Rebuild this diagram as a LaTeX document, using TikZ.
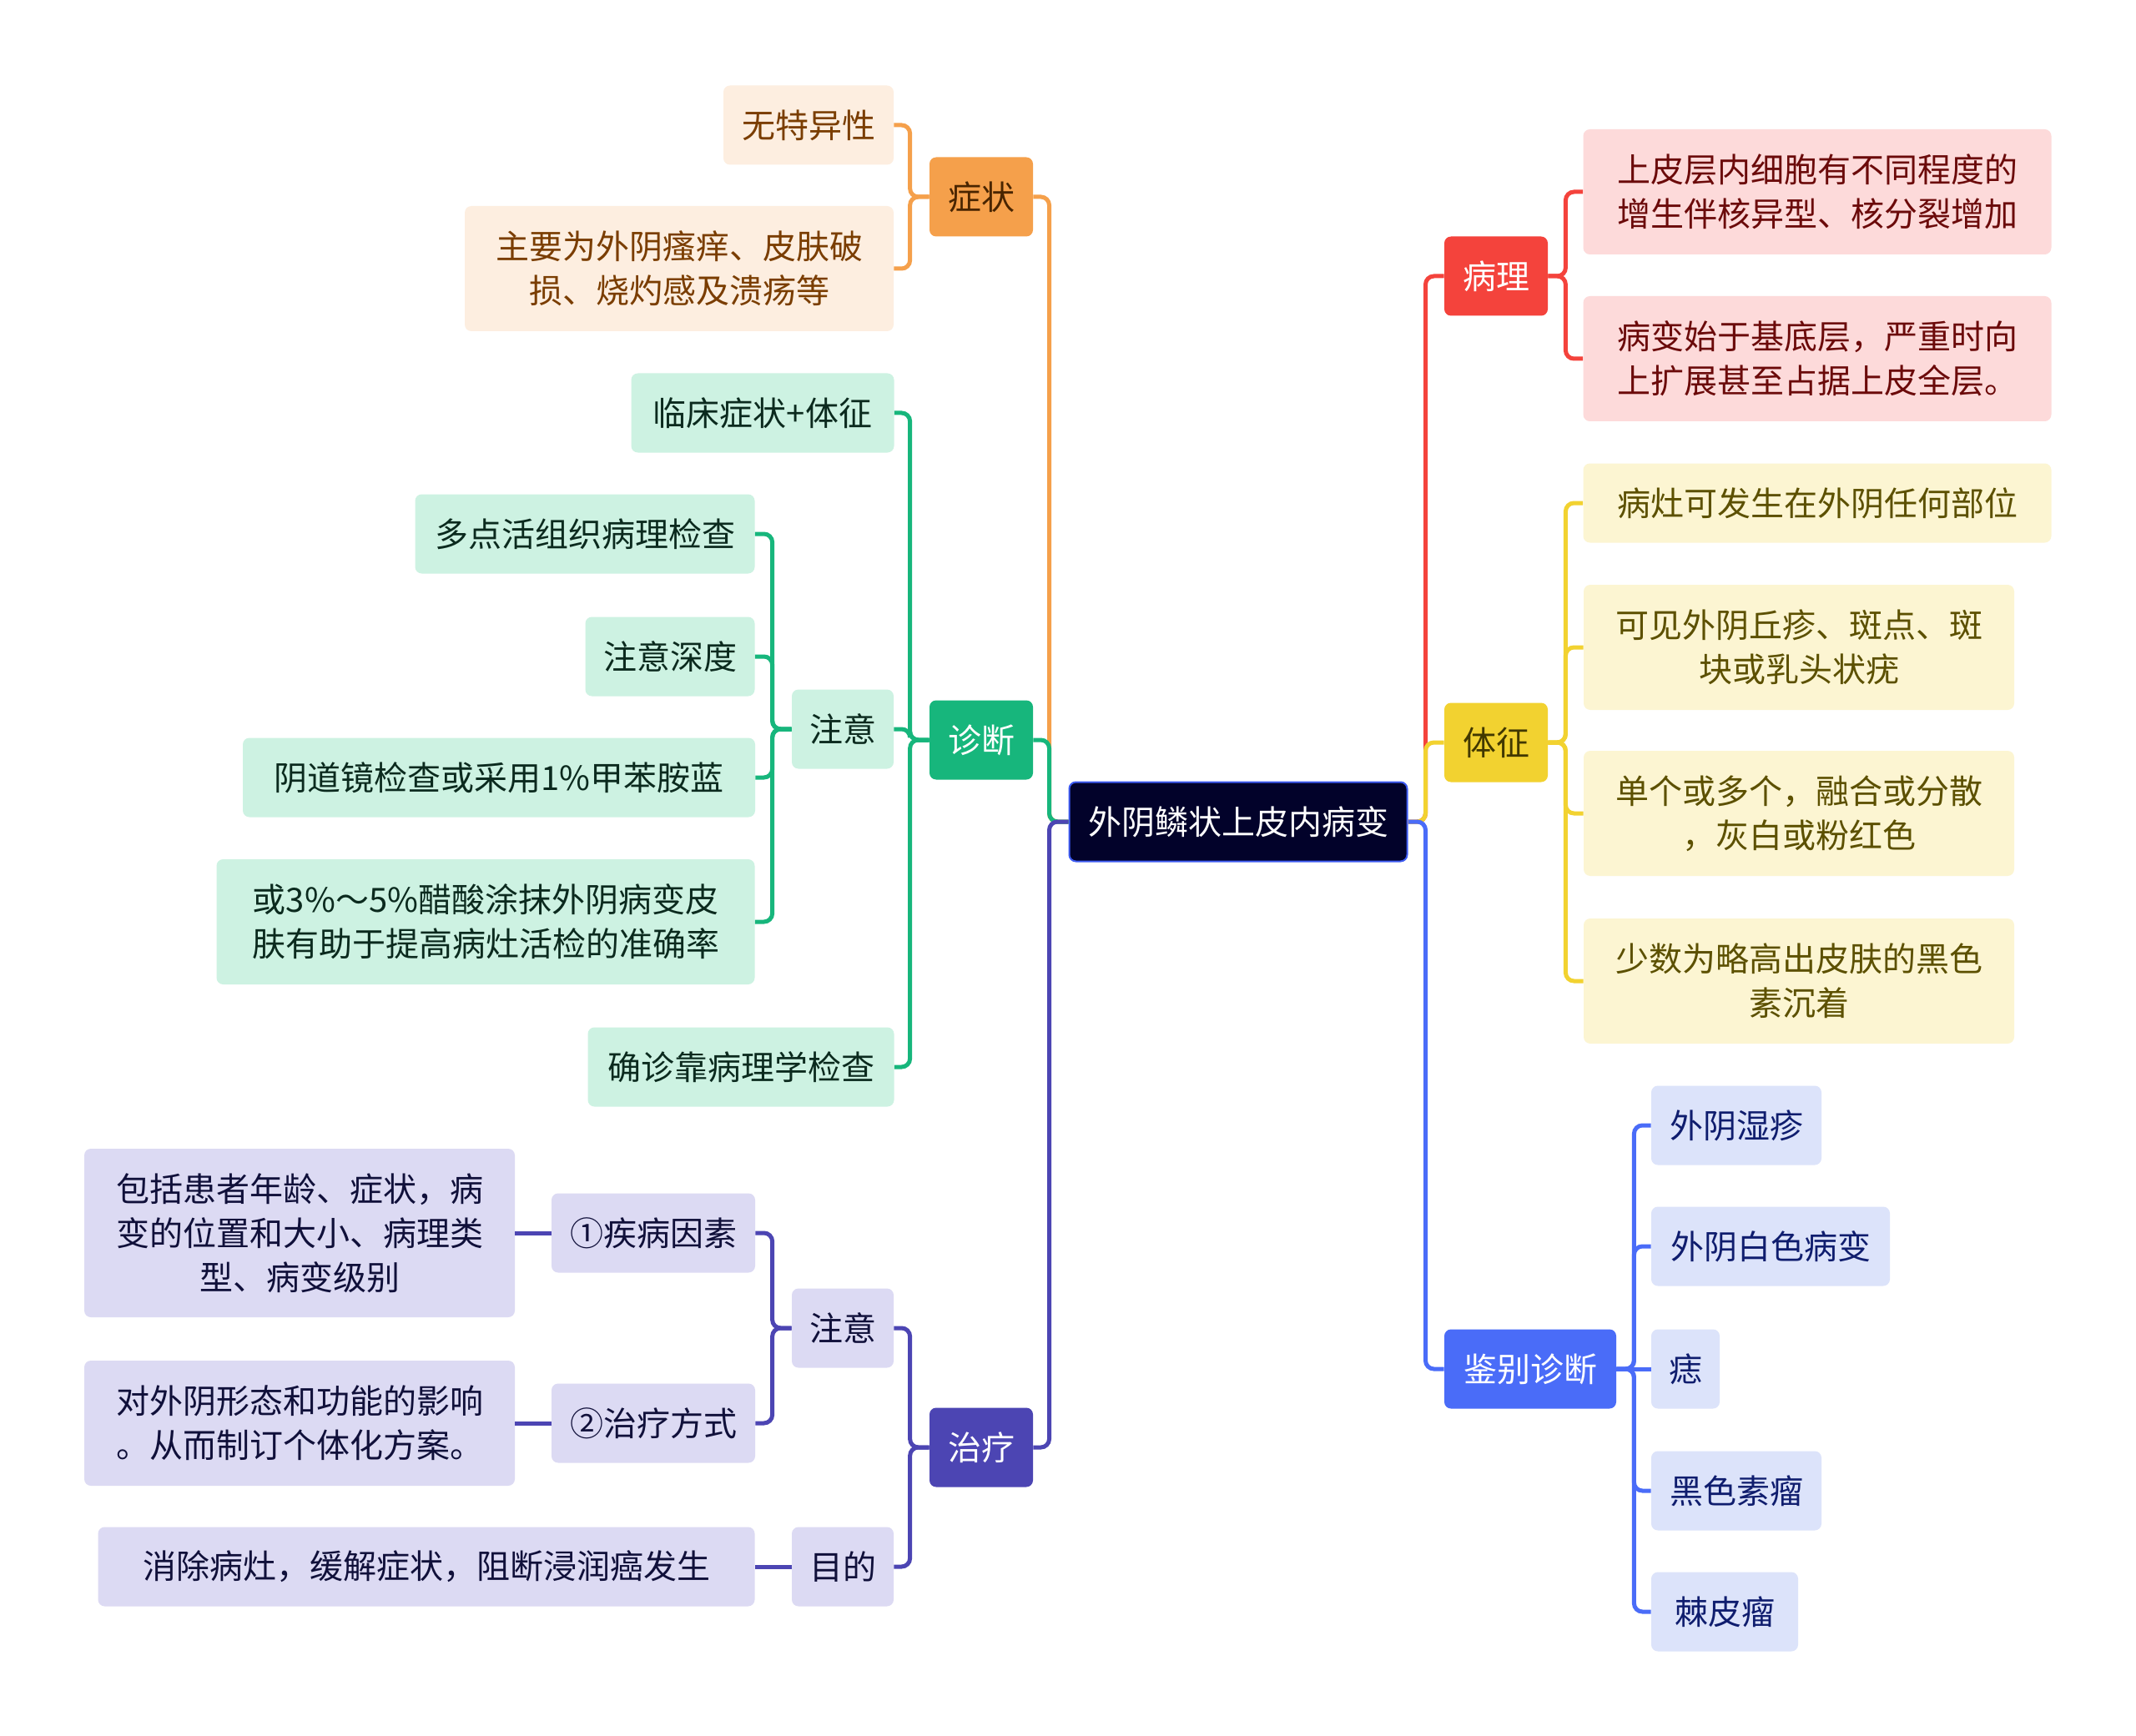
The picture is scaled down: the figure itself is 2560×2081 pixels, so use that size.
\documentclass[tikz,border=0pt]{standalone}
\usepackage{fontspec}
\setmainfont{Noto Sans CJK SC}
\usepackage{xcolor}
\usetikzlibrary{calc}
\definecolor{rootbg}{HTML}{02022A}
\definecolor{rootln}{HTML}{3D5AF1}
\definecolor{zzc}{HTML}{F5A04B}
\definecolor{zdc}{HTML}{17B67C}
\definecolor{zlc}{HTML}{4C45B3}
\definecolor{blc}{HTML}{F4433C}
\definecolor{tzc}{HTML}{F2D230}
\definecolor{jbc}{HTML}{4A6CF8}
\definecolor{zzf}{HTML}{FDEEE0}
\definecolor{zdf}{HTML}{CDF2E2}
\definecolor{zlf}{HTML}{DCDAF3}
\definecolor{blf}{HTML}{FDDADA}
\definecolor{tzf}{HTML}{FCF5D2}
\definecolor{jbf}{HTML}{DCE3FA}
\definecolor{zzt}{HTML}{7A3D00}
\definecolor{zdt}{HTML}{0B2A1E}
\definecolor{zlt}{HTML}{10103A}
\definecolor{blt}{HTML}{6B0A0A}
\definecolor{tzt}{HTML}{5C5000}
\definecolor{jbt}{HTML}{0F1D6E}
\tikzset{
  box/.style={rounded corners=4pt, inner sep=0pt, align=center, minimum height=47.5pt,
    font=\fontsize{20pt}{26.5pt}\selectfont},
  root/.style={box, fill=rootbg, draw=rootln, line width=1pt, text=white, minimum width=202.5pt},
  topic/.style={box, fill=#1, minimum width=62pt},
  leaf/.style={box, fill=#1f, text=#1t},
  two/.style={minimum height=75pt},
  three/.style={minimum height=101pt},
  link/.style={draw=#1, line width=2.5pt, rounded corners=5pt},
}
\newcommand{\lbranch}[3]{%
  \foreach \k in {#3} {\draw[link=#1] (#2.west) -- ++(-23,0) |- (\k.east);}}
\newcommand{\rbranch}[3]{%
  \foreach \k in {#3} {\draw[link=#1] (#2.east) -- ++(21,0) |- (\k.west);}}

\begin{document}
\begin{tikzpicture}[x=0.5pt,y=-0.5pt]
  \fill[white] (0,0) rectangle (2560,2081);
  \useasboundingbox (0,0) rectangle (2560,2081);

  \node[root] (root) at (1484,985) {外阴鳞状上皮内病变};

  % main topics
  \node[topic=zzc, text=zzt!60!black] (zz) at (1176,236) {症状};
  \node[topic=zdc, text=white] (zd) at (1176,887) {诊断};
  \node[topic=zlc, text=white] (zl) at (1176,1735) {治疗};
  \node[topic=blc, text=white] (bl) at (1793,331) {病理};
  \node[topic=tzc, text=tzt!70!black] (tz) at (1793,890) {体征};
  \node[topic=jbc, text=white, minimum width=103pt] (jb) at (1834,1641) {鉴别诊断};

  % symptoms
  \node[leaf=zz, minimum width=102pt] (zz1) at (969,150) {无特异性};
  \node[leaf=zz, two, minimum width=257pt] (zz2) at (814,322) {主要为外阴瘙痒、皮肤破\\损、烧灼感及溃疡等};

  % diagnosis
  \node[leaf=zd, minimum width=157.5pt] (zd1) at (914,495) {临床症状+体征};
  \node[leaf=zd, minimum width=61pt] (zd2) at (1010,874) {注意};
  \node[leaf=zd, minimum width=183.5pt] (zd3) at (888,1279) {确诊靠病理学检查};
  \node[leaf=zd, minimum width=203.5pt] (zd21) at (701,640) {多点活组织病理检查};
  \node[leaf=zd, minimum width=101.5pt] (zd22) at (803,787) {注意深度};
  \node[leaf=zd, minimum width=307pt] (zd23) at (598,932) {阴道镜检查或采用1\%甲苯胺蓝};
  \node[leaf=zd, two, minimum width=322.5pt] (zd24) at (582,1105) {或3\%～5\%醋酸涂抹外阴病变皮\\肤有助于提高病灶活检的准确率};

  % treatment
  \node[leaf=zl, minimum width=61pt] (zl1) at (1010,1592) {注意};
  \node[leaf=zl, minimum width=61pt] (zl2) at (1010,1878) {目的};
  \node[leaf=zl, minimum width=122pt] (zl11) at (783,1478) {①疾病因素};
  \node[leaf=zl, minimum width=122pt] (zl12) at (783,1706) {②治疗方式};
  \node[leaf=zl, three, minimum width=258pt] (zl111) at (359,1478) {包括患者年龄、症状，病\\变的位置和大小、病理类\\型、病变级别};
  \node[leaf=zl, two, minimum width=258pt] (zl121) at (359,1706) {对外阴形态和功能的影响\\。从而制订个体化方案。};
  \node[leaf=zl, minimum width=393.5pt] (zl21) at (511,1878) {消除病灶，缓解症状，阻断浸润癌发生};

  % pathology
  \node[leaf=bl, two, minimum width=280.5pt] (bl1) at (2178,230) {上皮层内细胞有不同程度的\\增生伴核异型、核分裂增加};
  \node[leaf=bl, two, minimum width=280.5pt] (bl2) at (2178,430) {病变始于基底层，严重时向\\上扩展甚至占据上皮全层。};

  % signs
  \node[leaf=tz, minimum width=280.5pt] (tz1) at (2178,603) {病灶可发生在外阴任何部位};
  \node[leaf=tz, two, minimum width=258pt] (tz2) at (2156,776) {可见外阴丘疹、斑点、斑\\块或乳头状疣};
  \node[leaf=tz, two, minimum width=258pt] (tz3) at (2156,975) {单个或多个，融合或分散\\，灰白或粉红色};
  \node[leaf=tz, two, minimum width=258pt] (tz4) at (2156,1176) {少数为略高出皮肤的黑色\\素沉着};

  % differential diagnosis
  \node[leaf=jb, minimum width=102pt] (jb1) at (2081,1349) {外阴湿疹};
  \node[leaf=jb, minimum width=143pt] (jb2) at (2122,1494) {外阴白色病变};
  \node[leaf=jb, minimum width=41pt] (jb3) at (2020,1641) {痣};
  \node[leaf=jb, minimum width=102pt] (jb4) at (2081,1787) {黑色素瘤};
  \node[leaf=jb, minimum width=88pt] (jb5) at (2067,1932) {棘皮瘤};

  % connectors
  \lbranch{zzc}{root}{zz}
  \lbranch{zdc}{root}{zd}
  \lbranch{zlc}{root}{zl}
  \rbranch{blc}{root}{bl}
  \rbranch{tzc}{root}{tz}
  \rbranch{jbc}{root}{jb}
  \lbranch{zzc}{zz}{zz1,zz2}
  \lbranch{zdc}{zd}{zd1,zd2,zd3}
  \lbranch{zdc}{zd2}{zd21,zd22,zd23,zd24}
  \lbranch{zlc}{zl}{zl1,zl2}
  \lbranch{zlc}{zl1}{zl11,zl12}
  \draw[link=zlc] (zl11.west) -- (zl111.east);
  \draw[link=zlc] (zl12.west) -- (zl121.east);
  \draw[link=zlc] (zl2.west) -- (zl21.east);
  \rbranch{blc}{bl}{bl1,bl2}
  \rbranch{tzc}{tz}{tz1,tz2,tz3,tz4}
  \rbranch{jbc}{jb}{jb1,jb2,jb4,jb5}
  \draw[link=jbc] (jb.east) -- (jb3.west);
\end{tikzpicture}
\end{document}
